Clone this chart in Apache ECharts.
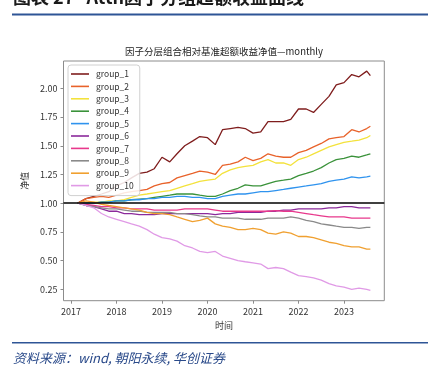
<!DOCTYPE html>
<html><head><meta charset="utf-8">
<script src="https://cdn.jsdelivr.net/npm/echarts@6/dist/echarts.min.js"></script>
<style>html,body{margin:0;padding:0;background:#fff}#c{width:428px;height:375px}</style>
</head><body><div id="c"></div>
<script>
const dates = [2017.15,2017.33,2017.5,2017.67,2017.83,2018.0,2018.17,2018.33,2018.5,2018.67,2018.83,2019.0,2019.17,2019.33,2019.5,2019.67,2019.83,2020.0,2020.17,2020.33,2020.5,2020.67,2020.83,2021.0,2021.17,2021.33,2021.5,2021.67,2021.83,2022.0,2022.17,2022.33,2022.5,2022.67,2022.83,2023.0,2023.17,2023.33,2023.5,2023.58];
const group_1 = [1.00,1.04,1.06,1.08,1.10,1.15,1.18,1.22,1.26,1.27,1.30,1.40,1.36,1.43,1.50,1.54,1.58,1.57,1.51,1.64,1.65,1.66,1.65,1.61,1.62,1.71,1.71,1.71,1.73,1.82,1.82,1.79,1.86,1.93,2.03,2.05,2.12,2.10,2.15,2.11];
const group_2 = [1.00,1.04,1.05,1.06,1.05,1.07,1.09,1.10,1.11,1.12,1.15,1.17,1.18,1.22,1.24,1.26,1.28,1.27,1.25,1.33,1.34,1.36,1.40,1.37,1.39,1.43,1.41,1.40,1.40,1.44,1.46,1.49,1.52,1.56,1.57,1.58,1.64,1.62,1.65,1.67];
const group_3 = [1.00,1.00,1.01,1.01,1.02,1.02,1.03,1.05,1.07,1.08,1.09,1.10,1.11,1.13,1.15,1.17,1.19,1.20,1.21,1.26,1.29,1.31,1.32,1.33,1.36,1.38,1.35,1.35,1.33,1.38,1.40,1.43,1.46,1.49,1.51,1.53,1.54,1.55,1.57,1.59];
const group_4 = [1.00,1.00,1.00,1.01,1.01,1.02,1.02,1.03,1.035,1.04,1.05,1.06,1.07,1.08,1.08,1.08,1.07,1.06,1.06,1.08,1.11,1.13,1.16,1.15,1.15,1.17,1.19,1.20,1.21,1.24,1.26,1.28,1.31,1.35,1.38,1.39,1.41,1.40,1.42,1.43];
const group_5 = [1.00,1.00,1.00,1.01,1.01,1.02,1.02,1.03,1.03,1.04,1.04,1.05,1.05,1.06,1.06,1.05,1.05,1.04,1.04,1.06,1.07,1.08,1.08,1.09,1.10,1.10,1.11,1.12,1.13,1.14,1.15,1.16,1.17,1.19,1.20,1.21,1.23,1.22,1.23,1.235];
const group_6 = [1.00,0.98,0.97,0.95,0.93,0.93,0.91,0.91,0.90,0.90,0.90,0.91,0.91,0.91,0.91,0.91,0.91,0.91,0.90,0.91,0.91,0.92,0.92,0.92,0.92,0.93,0.93,0.94,0.94,0.95,0.95,0.95,0.95,0.96,0.96,0.97,0.97,0.96,0.96,0.96];
const group_7 = [1.00,0.99,0.98,0.97,0.97,0.96,0.96,0.95,0.95,0.95,0.94,0.94,0.94,0.94,0.95,0.95,0.95,0.95,0.94,0.93,0.93,0.93,0.93,0.93,0.93,0.93,0.935,0.93,0.93,0.92,0.91,0.90,0.89,0.88,0.88,0.88,0.87,0.87,0.87,0.87];
const group_8 = [1.00,0.98,0.97,0.96,0.95,0.95,0.94,0.93,0.93,0.92,0.92,0.92,0.92,0.91,0.91,0.90,0.89,0.88,0.88,0.87,0.87,0.87,0.86,0.86,0.86,0.87,0.87,0.87,0.88,0.87,0.85,0.84,0.82,0.81,0.80,0.79,0.79,0.78,0.79,0.79];
const group_9 = [1.00,1.02,1.01,0.99,0.98,0.97,0.96,0.95,0.94,0.92,0.91,0.91,0.90,0.88,0.86,0.84,0.85,0.87,0.82,0.80,0.79,0.77,0.77,0.78,0.77,0.74,0.73,0.75,0.74,0.71,0.71,0.70,0.68,0.66,0.65,0.63,0.62,0.62,0.60,0.60];
const group_10 = [1.00,0.98,0.96,0.91,0.88,0.86,0.84,0.82,0.80,0.77,0.73,0.70,0.69,0.67,0.63,0.61,0.58,0.57,0.58,0.54,0.52,0.50,0.49,0.48,0.47,0.43,0.44,0.43,0.40,0.37,0.36,0.35,0.33,0.30,0.28,0.27,0.25,0.26,0.25,0.24];
const seriesNames = ['group_1','group_2','group_3','group_4','group_5','group_6','group_7','group_8','group_9','group_10'];
const seriesValues = [group_1,group_2,group_3,group_4,group_5,group_6,group_7,group_8,group_9,group_10];
const yTicks = [0.25,0.5,0.75,1.0,1.25,1.5,1.75,2.0];
const xTicks = [2017,2018,2019,2020,2021,2022,2023];
const colors = ['#7f1d1d','#e8622a','#f3e23c','#3a923a','#2f93ee','#8b2a9b','#e8388c','#8a8a8a','#f0a030','#e09ae6'];

const chart = echarts.init(document.getElementById('c'), null, {renderer:'canvas'});
const series = seriesNames.map((n,i)=>({
  name:n, type:'line', showSymbol:false, symbol:'none', animation:false,
  data: dates.map((d,j)=>[d, seriesValues[i][j]]),
  lineStyle:{width:1.3, color:colors[i]}, itemStyle:{color:colors[i]},
  z: 3
}));
series[9].markLine = {silent:true, symbol:'none', label:{show:false}, animation:false,
  lineStyle:{color:'#000', width:1.5, type:'solid'}, data:[{yAxis:1}]};

const font = '"Noto Sans CJK SC","Noto Sans",sans-serif';
chart.setOption({
  animation:false,
  textStyle:{fontFamily:font},
  grid:{left:63.5, right:43.7, top:61, bottom:74.3, show:true, borderColor:'#8c8c8c', borderWidth:1},
  xAxis:{type:'value', min:2016.835, max:2023.886, name:'时间', nameLocation:'middle', nameGap:20,
    nameTextStyle:{fontSize:9, color:'#333', fontFamily:font},
    axisLine:{show:false}, splitLine:{show:false},
    axisTick:{show:true, length:3, lineStyle:{color:'#8c8c8c'}, customValues:xTicks},
    axisLabel:{fontSize:9, color:'#333', margin:6, customValues:xTicks, formatter:v=>String(Math.round(v))}},
  yAxis:{type:'value', min:0.151, max:2.238, name:'净值', nameLocation:'middle', nameGap:28, nameRotate:90,
    nameTextStyle:{fontSize:9, color:'#333', fontFamily:font},
    axisLine:{show:false}, splitLine:{show:false},
    axisTick:{show:true, length:3, lineStyle:{color:'#8c8c8c'}, customValues:yTicks},
    axisLabel:{fontSize:9, color:'#333', margin:6, customValues:yTicks, formatter:v=>v.toFixed(2)}},
  legend:{orient:'vertical', left:68, top:65, icon:'rect', itemWidth:18, itemHeight:1.6, itemGap:2.4,
    padding:[4,6,5,3], borderColor:'#d0d0d0', borderWidth:1, borderRadius:3,
    backgroundColor:'rgba(255,255,255,0.85)',
    textStyle:{fontSize:8.5, color:'#333', lineHeight:10, padding:[0,0,0,2]},
    data:seriesNames},
  graphic:[
    {type:'text', left:13, top:-12, style:{text:'图表 27   Attn因子分组超额收益曲线', font:'bold 18px "Noto Sans CJK SC"', fill:'#1a1a1a'}},
    {type:'rect', shape:{x:12, y:13.5, width:416, height:2}, style:{fill:'#2e5596'}},
    {type:'text', x:224, y:47, style:{text:'因子分层组合相对基准超额收益净值—monthly', font:'9.5px "Noto Sans CJK SC"', fill:'#222', textAlign:'center'}},
    {type:'rect', shape:{x:12, y:342, width:416, height:1.5}, style:{fill:'#2e5596'}},
    {type:'text', left:13, top:352, style:{text:'资料来源：wind, 朝阳永续, 华创证券', font:'italic 13px "Noto Sans CJK SC"', fill:'#2a4a8a'}}
  ],
  series:series
});
</script></body></html>
